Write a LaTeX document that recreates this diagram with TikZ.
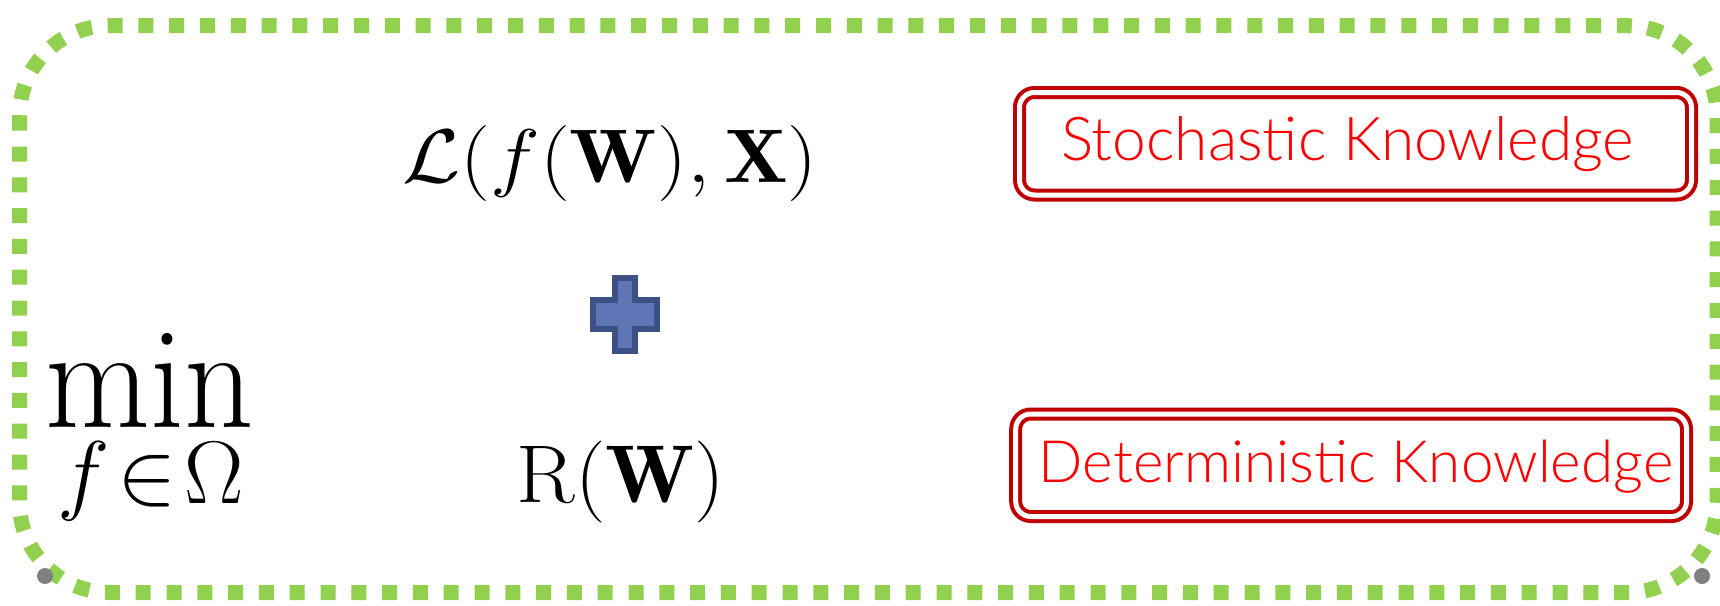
\documentclass[tikz,border=0pt]{standalone}
\usepackage{fix-cm}
\usepackage{fontspec}
\newfontfamily\kfont{Lato Light}
\definecolor{frameg}{RGB}{146,208,80}
\definecolor{boxred}{RGB}{192,0,0}
\definecolor{txtred}{RGB}{255,0,0}
\definecolor{plusfill}{RGB}{94,118,182}
\definecolor{plusline}{RGB}{62,81,133}
\definecolor{handlegray}{RGB}{128,128,128}
\tikzset{
  frame/.style={draw=frameg, line width=15pt, dash pattern=on 15pt off 15.8pt, rounded corners=90pt},
  kbox/.style={draw=boxred, line width=4pt, double=white, double distance=5pt, rounded corners=15pt, inner sep=0pt, text=txtred},
  mtext/.style={inner sep=0pt, anchor=base, text=black},
  handle/.style={circle, fill=handlegray, draw=none, minimum size=16pt, inner sep=0pt},
  plusshape/.style={fill=plusfill, draw=plusline, line width=6pt, line join=miter}
}
\begin{document}
\begin{tikzpicture}[x=1pt,y=-1pt]
\useasboundingbox (0,0) rectangle (1720,605);
\clip (0,0) rectangle (1720,605);
% dotted frame
\draw[frame] (19.5,25.7) rectangle (1717,592.5);
\node[handle] (h1) at (45,576) {};
\node[handle] (h2) at (1702,576) {};
% objective
\node[mtext] (minop) at (150,427) {\fontsize{146}{150}\selectfont\scalebox{0.93}[1]{$\min$}};
\node[mtext] (dom) at (151,503) {\fontsize{89}{95}\selectfont$f\mskip1.5mu{\in}\mskip1.5mu\Omega$};
\node[mtext] (loss) at (610,182) {\fontsize{76}{80}\selectfont\scalebox{1.11}[1]{$\mathcal{L}(f(\mathbf{W}),\mathbf{X})$}};
\node[mtext] (reg) at (621,502) {\fontsize{82}{90}\selectfont\scalebox{1.05}[1]{$\mathrm{R}(\mathbf{W})$}};
% plus
\draw[plusshape] (615,278) -- (635,278) -- (635,300) -- (657,300) -- (657,329) -- (635,329) -- (635,351) -- (615,351) -- (615,329) -- (593,329) -- (593,300) -- (615,300) -- cycle;
% knowledge boxes
\node[kbox, minimum width=672pt, minimum height=102.5pt] (sk) at (1355.5,143.75) {};
\node[inner sep=0pt, text=txtred] (skt) at (1347.5,144) {\resizebox{573pt}{!}{\kfont Stochastic Knowledge}};
\node[kbox, minimum width=670.75pt, minimum height=102.5pt] (dk) at (1351.1,465.25) {};
\node[inner sep=0pt, text=txtred] (dkt) at (1356,467) {\resizebox{634pt}{!}{\kfont Deterministic Knowledge}};
\end{tikzpicture}
\end{document}
